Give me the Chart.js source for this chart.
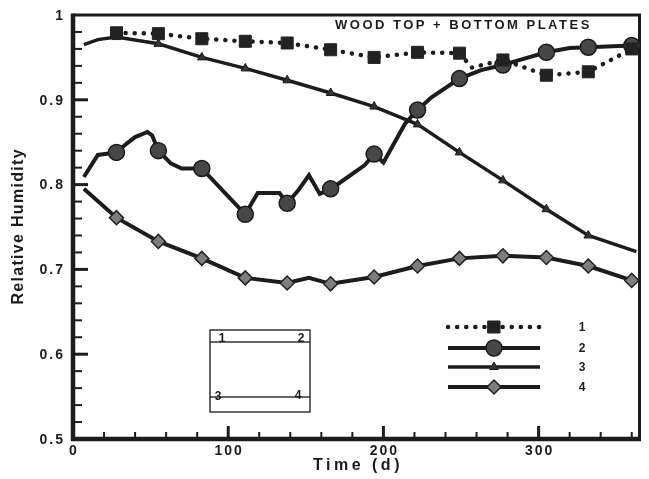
<!DOCTYPE html>
<html>
<head>
<meta charset="utf-8">
<script src="https://cdn.jsdelivr.net/npm/chart.js@4.4.1/dist/chart.umd.min.js"></script>
<style>
    html, body { margin: 0; padding: 0; background: #fff; }
    #rhChart { display: block; }
</style>
</head>
<body>
<canvas id="rhChart" width="649" height="479"></canvas>
<script>
    "use strict";

    // 측정일 (마커가 찍힌 날)
    const markerDays = [28, 55, 83, 111, 138, 166, 194, 222, 249, 277, 305, 332, 360];

    // 1: 점선 + 사각형
    const s1Days = [28, 55, 83, 111, 138, 166, 194, 222, 249, 257, 277, 305, 332, 360];
    const s1Rh = [0.979, 0.978, 0.972, 0.969, 0.967, 0.959, 0.950, 0.956, 0.955, 0.938, 0.947, 0.929, 0.933, 0.960];

    // 2: 실선 + 원
    const s2Days = [7, 16, 28, 35, 40, 48, 51, 55, 63, 70, 83, 98, 111, 119, 133, 138, 145, 152, 159, 166,
        171, 188, 194, 200, 214, 222, 231, 249, 263, 277, 288, 305, 320, 332, 360];
    const s2Rh = [0.809, 0.835, 0.838, 0.849, 0.856, 0.862, 0.858, 0.840, 0.825, 0.819, 0.819, 0.790, 0.765,
        0.790, 0.790, 0.778, 0.793, 0.811, 0.789, 0.795, 0.801, 0.823, 0.836, 0.826, 0.872, 0.888, 0.903,
        0.925, 0.935, 0.941, 0.947, 0.956, 0.961, 0.962, 0.964];

    // 3: 실선 + 삼각형
    const s3Days = [7, 16, 28, 55, 83, 111, 138, 166, 194, 222, 249, 277, 305, 332, 363];
    const s3Rh = [0.965, 0.971, 0.974, 0.966, 0.950, 0.937, 0.923, 0.908, 0.892, 0.871, 0.838, 0.805, 0.771, 0.740, 0.721];

    // 4: 실선 + 마름모
    const s4Days = [7, 28, 55, 83, 111, 138, 152, 166, 194, 222, 249, 277, 305, 332, 360];
    const s4Rh = [0.795, 0.761, 0.733, 0.713, 0.690, 0.684, 0.690, 0.683, 0.691, 0.704, 0.713, 0.716, 0.714, 0.704, 0.687];

    // 축 눈금
    const xTicks = [0, 100, 200, 300];
    const xTickLabels = ["0", "100", "200", "300"];
    const yTicks = [0.5, 0.6, 0.7, 0.8, 0.9, 1.0];
    const yTickLabels = ["0.5", "0.6", "0.7", "0.8", "0.9", "1"];
    const legendLabels = ["1", "2", "3", "4"];

    const INK = "#1c1c1c";
    const FONT = "\"Liberation Sans\", Arial, sans-serif";

    function toPoints(days, vals) {
        return days.map((d, i) => ({ x: d, y: vals[i] }));
    }

    function markerRadius(r) {
        return (ctx) => (ctx.raw && markerDays.includes(ctx.raw.x) ? r : 0);
    }

    function drawText(ctx, text, x, y, font, spacing, align, baseline) {
        ctx.save();
        ctx.font = font;
        ctx.letterSpacing = spacing + "px";
        ctx.fillStyle = INK;
        ctx.textAlign = align;
        ctx.textBaseline = baseline;
        // letterSpacing 은 끝에도 붙으므로 보정
        let shift = 0;
        if (align === "center") shift = spacing / 2;
        if (align === "right") shift = spacing;
        ctx.fillText(text, x + shift, y);
        ctx.restore();
    }

    /** 축 틀, 눈금, 눈금 라벨, 축 제목 */
    const frameAxesPlugin = {
        id: "frameAxesPlugin",
        beforeDatasetsDraw(chart) {
            const { ctx, chartArea: a, scales } = chart;
            const xs = scales.x;
            const ys = scales.y;

            ctx.save();
            ctx.strokeStyle = INK;
            ctx.lineCap = "butt";

            // 위/오른쪽 테두리
            ctx.lineWidth = 3;
            ctx.beginPath();
            ctx.moveTo(a.left, a.top);
            ctx.lineTo(a.right, a.top);
            ctx.lineTo(a.right, a.bottom);
            ctx.stroke();

            // 왼쪽/아래 축 (굵게)
            ctx.lineWidth = 4.5;
            ctx.beginPath();
            ctx.moveTo(a.left, a.top - 1.5);
            ctx.lineTo(a.left, a.bottom);
            ctx.lineTo(a.right + 1.5, a.bottom);
            ctx.stroke();

            // y 눈금 (안쪽)
            for (let v = 0.52; v < 1.0; v += 0.02) {
                const y = ys.getPixelForValue(v);
                const major = Math.abs(v * 10 - Math.round(v * 10)) < 1e-6;
                ctx.lineWidth = major ? 3 : 2;
                ctx.beginPath();
                ctx.moveTo(a.left, y);
                ctx.lineTo(a.left + (major ? 15 : 9), y);
                ctx.stroke();
            }

            // x 눈금 (안쪽)
            for (let d = 20; d < 365; d += 20) {
                const x = xs.getPixelForValue(d);
                const major = d % 100 === 0;
                ctx.lineWidth = major ? 3 : 2;
                ctx.beginPath();
                ctx.moveTo(x, a.bottom);
                ctx.lineTo(x, a.bottom - (major ? 13 : 7));
                ctx.stroke();
            }
            ctx.restore();

            const tickFont = "bold 14px " + FONT;
            yTicks.forEach((v, i) => {
                drawText(ctx, yTickLabels[i], 63, ys.getPixelForValue(v) + 1, tickFont, 2, "right", "middle");
            });
            xTicks.forEach((v, i) => {
                drawText(ctx, xTickLabels[i], xs.getPixelForValue(v), a.bottom + 12, tickFont, 2, "center", "middle");
            });

            drawText(ctx, "Time (d)", (a.left + a.right) / 2, 466, "bold 16px " + FONT, 3.5, "center", "middle");

            ctx.save();
            ctx.translate(19, (a.top + a.bottom) / 2);
            ctx.rotate(-Math.PI / 2);
            drawText(ctx, "Relative Humidity", 0, 0, "bold 16px " + FONT, 1.3, "center", "middle");
            ctx.restore();
        },

        /** 제목, 단면 그림, 범례 */
        afterDraw(chart) {
            const { ctx } = chart;

            drawText(ctx, "WOOD TOP + BOTTOM PLATES", 335, 25, "bold 13px " + FONT, 2.5, "left", "middle");

            // 단면 그림
            ctx.save();
            ctx.strokeStyle = "#333";
            ctx.lineWidth = 1.5;
            ctx.strokeRect(210, 330, 100, 82);
            ctx.beginPath();
            ctx.moveTo(210, 342);
            ctx.lineTo(310, 342);
            ctx.moveTo(210, 397);
            ctx.lineTo(310, 397);
            ctx.stroke();
            ctx.restore();
            const insetFont = "bold 12px " + FONT;
            drawText(ctx, "1", 222, 342, insetFont, 0, "center", "alphabetic");
            drawText(ctx, "2", 301, 342, insetFont, 0, "center", "alphabetic");
            drawText(ctx, "3", 218, 397, insetFont, 0, "center", "middle");
            drawText(ctx, "4", 298, 396, insetFont, 0, "center", "middle");

            // 범례
            const rows = [327, 348, 367, 387];
            chart.data.datasets.forEach((ds, i) => {
                const y = rows[i];
                ctx.save();
                ctx.strokeStyle = ds.borderColor;
                ctx.lineWidth = ds.borderWidth;
                ctx.lineCap = ds.borderCapStyle || "butt";
                ctx.setLineDash(ds.borderDash || []);
                ctx.beginPath();
                ctx.moveTo(448, y);
                ctx.lineTo(540, y);
                ctx.stroke();
                ctx.setLineDash([]);
                ctx.fillStyle = ds.pointBackgroundColor;
                ctx.strokeStyle = ds.pointBorderColor;
                ctx.lineWidth = ds.pointBorderWidth;
                Chart.helpers.drawPoint(ctx, {
                    pointStyle: ds.pointStyle,
                    radius: ds.legendRadius,
                    rotation: 0,
                    borderWidth: ds.pointBorderWidth
                }, 494, y);
                ctx.restore();
                drawText(ctx, legendLabels[i], 582, y + 1, "bold 12px " + FONT, 0, "center", "middle");
            });
        }
    };

    new Chart(document.getElementById("rhChart").getContext("2d"), {
        type: "line",
        data: {
            datasets: [
                {
                    label: "1",
                    data: toPoints(s1Days, s1Rh),
                    borderColor: INK,
                    borderWidth: 4.5,
                    borderDash: [0.1, 9],
                    borderCapStyle: "round",
                    pointStyle: "rect",
                    pointRadius: markerRadius(8.5),
                    legendRadius: 8.5,
                    pointBackgroundColor: "#222",
                    pointBorderColor: "#222",
                    pointBorderWidth: 1,
                    tension: 0
                },
                {
                    label: "2",
                    data: toPoints(s2Days, s2Rh),
                    borderColor: INK,
                    borderWidth: 4,
                    pointStyle: "circle",
                    pointRadius: markerRadius(8),
                    legendRadius: 8,
                    pointBackgroundColor: "#474747",
                    pointBorderColor: "#1a1a1a",
                    pointBorderWidth: 1.5,
                    tension: 0
                },
                {
                    label: "3",
                    data: toPoints(s3Days, s3Rh),
                    borderColor: INK,
                    borderWidth: 3.5,
                    pointStyle: "triangle",
                    pointRadius: markerRadius(5),
                    legendRadius: 5,
                    pointBackgroundColor: "#333",
                    pointBorderColor: "#1a1a1a",
                    pointBorderWidth: 1,
                    tension: 0
                },
                {
                    label: "4",
                    data: toPoints(s4Days, s4Rh),
                    borderColor: INK,
                    borderWidth: 4,
                    pointStyle: "rectRot",
                    pointRadius: markerRadius(7),
                    legendRadius: 7,
                    pointBackgroundColor: "#7d7d7d",
                    pointBorderColor: "#222",
                    pointBorderWidth: 1.5,
                    tension: 0
                }
            ]
        },
        options: {
            responsive: false,
            animation: false,
            events: [],
            devicePixelRatio: 1,
            layout: {
                padding: { left: 73, top: 15, right: 3, bottom: 40 }
            },
            plugins: {
                legend: { display: false },
                tooltip: { enabled: false }
            },
            scales: {
                x: { type: "linear", min: 0, max: 365, display: false },
                y: { type: "linear", min: 0.5, max: 1.0, display: false }
            }
        },
        plugins: [frameAxesPlugin]
    });
</script>
</body>
</html>
